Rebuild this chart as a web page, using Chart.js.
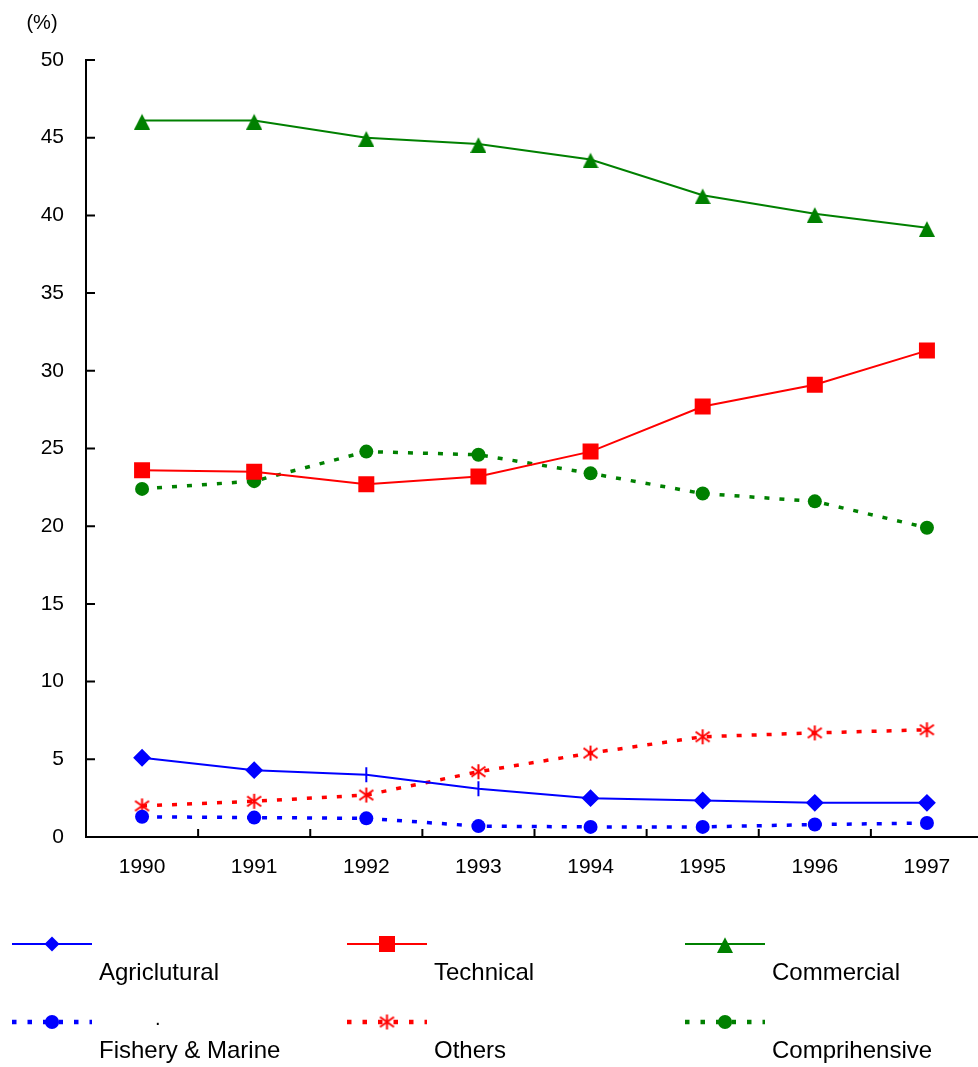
<!DOCTYPE html>
<html>
<head>
<meta charset="utf-8">
<script src="https://cdn.jsdelivr.net/npm/chart.js@4.4.1/dist/chart.umd.min.js"></script>
<style>
  html, body { margin: 0; padding: 0; background: #fff; overflow: hidden; }
  #wrap { width: 978px; height: 1067px; overflow: hidden; }
  #chart { width: 990px; height: 1067px; }
</style>
</head>
<body>
<div id="wrap"><canvas id="chart" width="990" height="1067"></canvas></div>
<script>
const years = ['1990', '1991', '1992', '1993', '1994', '1995', '1996', '1997'];
const agricultural  = [5.1, 4.3, 4.0, 3.1, 2.5, 2.35, 2.2, 2.2];
const technical     = [23.6, 23.5, 22.7, 23.2, 24.8, 27.7, 29.1, 31.3];
const commercial    = [46.1, 46.1, 45.0, 44.6, 43.6, 41.3, 40.1, 39.2];
const fishery       = [1.3, 1.25, 1.2, 0.7, 0.65, 0.65, 0.8, 0.9];
const others        = [2.0, 2.3, 2.7, 4.2, 5.4, 6.45, 6.7, 6.9];
const comprehensive = [22.4, 22.9, 24.8, 24.6, 23.4, 22.1, 21.6, 19.9];
const seriesNames = ['Agriclutural', 'Technical', 'Commercial', 'Fishery & Marine', 'Others', 'Comprihensive'];

const FONT = "'Liberation Sans', Arial, sans-serif";
const BLUE = '#0000ff', RED = '#ff0000', GREEN = '#008000';
const dotted = [5, 10];

// asterisk marker for "Others"
function makeAsterisk(color) {
    const c = document.createElement('canvas');
    c.width = 17; c.height = 17;
    const g = c.getContext('2d');
    g.strokeStyle = color;
    g.lineWidth = 2;
    g.beginPath();
    g.moveTo(8.5, 1); g.lineTo(8.5, 16);
    g.moveTo(1.5, 3.5); g.lineTo(15.5, 13.5);
    g.moveTo(15.5, 3.5); g.lineTo(1.5, 13.5);
    g.stroke();
    return c;
}

// triangle sits a bit low on the line in the original
function makeTriangle(color) {
    const c = document.createElement('canvas');
    c.width = 16; c.height = 18;
    const g = c.getContext('2d');
    g.fillStyle = color;
    g.beginPath();
    g.moveTo(8, 2.3);
    g.lineTo(16, 18);
    g.lineTo(0, 18);
    g.closePath();
    g.fill();
    return c;
}
const asterisk = makeAsterisk(RED);
const triangle = makeTriangle(GREEN);

// 1992 and 1993 agricultural points are plain ticks in the original
const agriStyles = ['rectRot', 'rectRot', 'line', 'line', 'rectRot', 'rectRot', 'rectRot', 'rectRot'];
const agriRotation = [0, 0, 90, 90, 0, 0, 0, 0];

const datasets = [
    { label: seriesNames[0], data: agricultural, borderColor: BLUE, backgroundColor: BLUE, borderWidth: 2,
      pointStyle: agriStyles, pointRotation: agriRotation, pointRadius: 7.5, pointBorderWidth: 2 },
    { label: seriesNames[1], data: technical, borderColor: RED, backgroundColor: RED, borderWidth: 2,
      pointStyle: 'rect', pointRadius: 11.3, pointBorderWidth: 0 },
    { label: seriesNames[2], data: commercial, borderColor: GREEN, backgroundColor: GREEN, borderWidth: 2,
      pointStyle: triangle, pointRadius: 9, pointBorderWidth: 0 },
    { label: seriesNames[3], data: fishery, borderColor: BLUE, backgroundColor: BLUE, borderWidth: 3.5, borderDash: dotted,
      pointStyle: 'circle', pointRadius: 7, pointBorderWidth: 0 },
    { label: seriesNames[4], data: others, borderColor: RED, backgroundColor: RED, borderWidth: 3.5, borderDash: dotted,
      pointStyle: asterisk, pointRadius: 8, pointBorderWidth: 0 },
    { label: seriesNames[5], data: comprehensive, borderColor: GREEN, backgroundColor: GREEN, borderWidth: 3.5, borderDash: dotted,
      pointStyle: 'circle', pointRadius: 7, pointBorderWidth: 0 }
];

// inward tick marks, unit label and the bottom legend
const decorations = {
    id: 'decorations',
    afterDraw(chart) {
        const { ctx, chartArea: area, scales: { x, y } } = chart;
        ctx.save();
        ctx.strokeStyle = '#000';
        ctx.lineWidth = 2;
        ctx.beginPath();
        y.ticks.forEach(t => {
            const py = y.getPixelForValue(t.value);
            ctx.moveTo(area.left, py);
            ctx.lineTo(area.left + 9, py);
        });
        const step = x.getPixelForValue(1) - x.getPixelForValue(0);
        for (let i = 0; i < years.length; i++) {
            const px = x.getPixelForValue(i) + step / 2;
            ctx.moveTo(px, area.bottom);
            ctx.lineTo(px, area.bottom - 8);
        }
        ctx.stroke();

        ctx.fillStyle = '#000';
        ctx.font = '20px ' + FONT;
        ctx.textAlign = 'center';
        ctx.textBaseline = 'middle';
        ctx.fillText('(%)', 42, 23);

        // legend: 3 columns x 2 rows, sample line above the label
        const cols = [12, 347, 685];
        const rows = [944, 1022];
        chart.data.datasets.forEach((ds, i) => {
            const x0 = cols[i % 3], y0 = rows[Math.floor(i / 3)];
            ctx.save();
            ctx.strokeStyle = ds.borderColor;
            ctx.lineWidth = ds.borderDash ? 4.5 : ds.borderWidth;
            ctx.setLineDash(ds.borderDash ? [4.5, 11] : []);
            ctx.beginPath();
            ctx.moveTo(x0, y0);
            ctx.lineTo(x0 + 80, y0);
            ctx.stroke();
            ctx.setLineDash([]);
            ctx.fillStyle = ds.backgroundColor;
            const style = Array.isArray(ds.pointStyle) ? ds.pointStyle[0] : ds.pointStyle;
            Chart.helpers.drawPoint(ctx, { pointStyle: style, rotation: 0, radius: ds.pointRadius, borderWidth: 0 }, x0 + 40, y0);
            ctx.restore();

            ctx.fillStyle = '#000';
            ctx.font = '24px ' + FONT;
            ctx.textAlign = 'left';
            ctx.textBaseline = 'middle';
            ctx.fillText(ds.label, x0 + 87, y0 + 29);
        });
        ctx.font = '20px ' + FONT;
        ctx.fillText('.', 155, 1019);
        ctx.restore();
    }
};

new Chart(document.getElementById('chart'), {
    type: 'line',
    data: { labels: years, datasets: datasets },
    options: {
        responsive: false,
        animation: false,
        events: [],
        layout: { autoPadding: false, padding: { left: 0, top: 60, right: 7, bottom: 180 } },
        elements: { line: { tension: 0, fill: false } },
        plugins: { legend: { display: false }, tooltip: { enabled: false } },
        scales: {
            x: {
                offset: true,
                grid: { display: false },
                border: { display: true, color: '#000', width: 2 },
                ticks: { color: '#000', font: { family: FONT, size: 21 }, padding: 10, maxRotation: 0 },
                afterFit(scale) { scale.height = 50; }
            },
            y: {
                min: 0,
                max: 50,
                grid: { display: false, drawTicks: false },
                border: { display: true, color: '#000', width: 2 },
                ticks: { stepSize: 5, color: '#000', font: { family: FONT, size: 21 }, padding: 22 },
                afterFit(scale) { scale.width = 86; }
            }
        }
    },
    plugins: [decorations]
});
</script>
</body>
</html>
